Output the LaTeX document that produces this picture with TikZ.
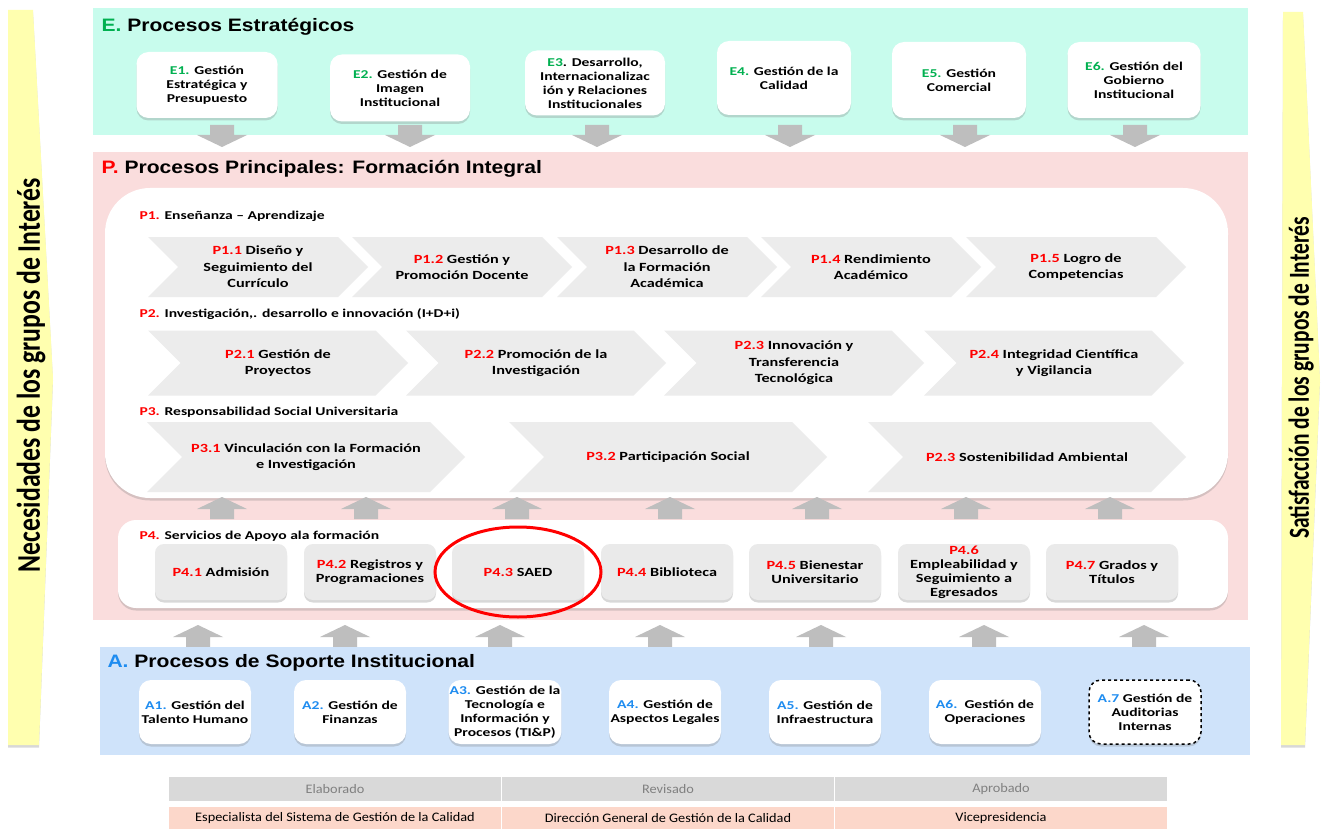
\documentclass[tikz,border=0pt]{standalone}
\usepackage{fontspec}
\setmainfont{Carlito}
\newfontfamily\boxfont[FakeStretch=1.3]{Carlito}
\newfontfamily\cellfont[FakeStretch=1.1]{Carlito}
\newfontfamily\titlefont[FakeStretch=1.17]{Liberation Sans}
\newfontfamily\barfont[FakeStretch=0.78]{Carlito}
\newfontfamily\rbarfont[FakeStretch=0.74]{Carlito}
\usepackage{xcolor}
\usepackage{tikz}
\usetikzlibrary{shapes.symbols,shadows}
\definecolor{egreen}{RGB}{0,176,80}
\definecolor{pred}{RGB}{255,0,0}
\definecolor{ablue}{RGB}{30,140,240}
\definecolor{tealbg}{RGB}{200,252,237}
\definecolor{pinkbg}{RGB}{250,221,221}
\definecolor{bluebg}{RGB}{207,227,250}
\definecolor{baryellow}{RGB}{255,255,175}
\definecolor{chevgray}{RGB}{236,236,236}
\definecolor{boxgray}{RGB}{234,234,234}
\definecolor{arrgray}{RGB}{190,190,190}
\definecolor{headgray}{RGB}{217,217,217}
\definecolor{bodypeach}{RGB}{252,215,202}

\newcommand{\eg}[1]{\textcolor{egreen}{#1}}
\newcommand{\pr}[1]{\textcolor{pred}{#1}}
\newcommand{\ab}[1]{\textcolor{ablue}{#1}}
\newcommand{\arrdown}[2]{\fill[arrgray] (#1-12,#2) -- (#1+12,#2) -- (#1+12,#2+10) -- (#1+25,#2+10) -- (#1,#2+22) -- (#1-25,#2+10) -- (#1-12,#2+10) -- cycle;}
\newcommand{\arrup}[2]{\fill[arrgray] (#1,#2) -- (#1+25,#2+12) -- (#1+12,#2+12) -- (#1+12,#2+22) -- (#1-12,#2+22) -- (#1-12,#2+12) -- (#1-25,#2+12) -- cycle;}

\tikzset{
  softshadow/.style={drop shadow={shadow xshift=0pt, shadow yshift=-2.5pt, opacity=.3}},
  wbox/.style={fill=white, rounded corners=12, align=center, softshadow, inner sep=1pt,
    font=\boxfont\bfseries\fontsize{12}{14}\selectfont},
  gbox/.style={fill=boxgray, rounded corners=9, align=center, softshadow, inner sep=1pt,
    minimum width=132, minimum height=56, font=\boxfont\bfseries\fontsize{12.5}{14}\selectfont},
  chev/.style={signal, signal from=west, signal to=east, signal pointer angle=90,
    fill=chevgray, align=center, inner sep=0pt, font=\boxfont\bfseries\fontsize{12.5}{16.5}\selectfont},
  sublabel/.style={anchor=west, font=\boxfont\bfseries\fontsize{12}{14}\selectfont},
  sectitle/.style={anchor=west, font=\titlefont\bfseries\fontsize{18}{20}\selectfont},
  headcell/.style={fill=headgray, minimum width=332, minimum height=24, text=black!50,
    font=\cellfont\fontsize{13}{14}\selectfont},
  bodycell/.style={fill=bodypeach, minimum width=332, minimum height=22,
    font=\cellfont\fontsize{13}{14}\selectfont},
}

\begin{document}
\begin{tikzpicture}[x=1pt,y=-1pt]
\useasboundingbox (0,0) rectangle (1325,829);
\fill[white] (0,0) rectangle (1325,829);

% side bars
\fill[baryellow, softshadow] (8,10) -- (33,10) -- (53,378) -- (39,745) -- (8,745) -- cycle;
\node (needs) at (31,375) [rotate=90, font=\barfont\bfseries\fontsize{33}{33}\selectfont] {Necesidades de los grupos de Interés};
\fill[baryellow, softshadow] (1283,12) -- (1303,12) -- (1320,380) -- (1305,745) -- (1281,745) -- cycle;
\node (satis) at (1301,378) [rotate=90, font=\rbarfont\bfseries\fontsize{29}{29}\selectfont] {Satisfacción de los grupos de Interés};

% E. procesos estrategicos
\fill[tealbg] (93,8) rectangle (1248,135);
\node (etitle) at (98,27) [sectitle] {\eg{E.} Procesos Estratégicos};
\node (e1) at (207,85) [wbox, minimum width=141, minimum height=66] {\eg{E1.} Gestión\\Estratégica y\\Presupuesto};
\node (e2) at (400,88) [wbox, minimum width=140, minimum height=67] {\eg{E2.} Gestión de\\Imagen\\Institucional};
\node (e3) at (595,83) [wbox, minimum width=140, minimum height=65] {\eg{E3}. Desarrollo,\\Internacionalizac\\ión y Relaciones\\Institucionales};
\node (e4) at (784,78) [wbox, minimum width=134, minimum height=74] {\eg{E4.} Gestión de la\\Calidad};
\node (e5) at (959,80) [wbox, minimum width=134, minimum height=76] {\eg{E5.} Gestión\\Comercial};
\node (e6) at (1134,80) [wbox, minimum width=133, minimum height=76] {\eg{E6.} Gestión del\\Gobierno\\Institucional};
\arrdown{222}{125} \arrdown{410}{125} \arrdown{597}{125}
\arrdown{790}{125} \arrdown{965}{125} \arrdown{1135}{125}

% P. procesos principales
\fill[pinkbg] (93,152) rectangle (1248,620);
\node (ptitle) at (98,169) [sectitle] {\pr{P.} Procesos Principales: Formación Integral};
\fill[white, rounded corners=45, softshadow] (105,188) rectangle (1228,498);

\node (p1) at (136,216) [sublabel] {\pr{P1.} Enseñanza – Aprendizaje};
\node (p11) at (258,267) [chev, minimum width=220, minimum height=60] {\pr{P1.1} Diseño y\\Seguimiento del\\Currículo};
\node (p12) at (462,267) [chev, minimum width=220, minimum height=60] {\pr{P1.2} Gestión y\\Promoción Docente};
\node (p13) at (667,267) [chev, minimum width=220, minimum height=60] {\pr{P1.3} Desarrollo de\\la Formación\\Académica};
\node (p14) at (871,267) [chev, minimum width=220, minimum height=60] {\pr{P1.4} Rendimiento\\Académico};
\node (p15) at (1076,267) [chev, minimum width=220, minimum height=60] {\pr{P1.5} Logro de\\Competencias};

\node (p2) at (136,314) [sublabel] {\pr{P2.} Investigación,. desarrollo e innovación (I+D+i)};
\node (p21) at (278,363) [chev, minimum width=260, minimum height=65] {\pr{P2.1} Gestión de\\Proyectos};
\node (p22) at (536,363) [chev, minimum width=260, minimum height=65] {\pr{P2.2} Promoción de la\\Investigación};
\node (p23) at (794,363) [chev, minimum width=260, minimum height=65] {\pr{P2.3} Innovación y\\Transferencia\\Tecnológica};
\node (p24) at (1054,363) [chev, minimum width=260, minimum height=65] {\pr{P2.4} Integridad Científica\\y Vigilancia};

\node (p3) at (136,412) [sublabel] {\pr{P3.} Responsabilidad Social Universitaria};
\node (p31) at (306,457) [chev, minimum width=318, minimum height=70] {\pr{P3.1} Vinculación con la Formación\\e Investigación};
\node (p32) at (668,457) [chev, minimum width=318, minimum height=70] {\pr{P3.2} Participación Social};
\node (p33) at (1027,457) [chev, minimum width=318, minimum height=70] {\pr{P2.3} Sostenibilidad Ambiental};

\arrup{222}{497} \arrup{366}{497} \arrup{517}{497} \arrup{670}{497}
\arrup{817}{497} \arrup{966}{497} \arrup{1110}{497}

\fill[white, rounded corners=18, softshadow] (118,520) rectangle (1228,608);
\node (p4) at (136,536) [sublabel] {\pr{P4.} Servicios de Apoyo ala formación};
\node (p41) at (221,572) [gbox] {\pr{P4.1} Admisión};
\node (p42) at (370,572) [gbox] {\pr{P4.2} Registros y\\Programaciones};
\node (p43) at (518,572) [gbox] {\pr{P4.3} SAED};
\node (p44) at (667,572) [gbox] {\pr{P4.4} Biblioteca};
\node (p45) at (815,572) [gbox] {\pr{P4.5} Bienestar\\Universitario};
\node (p46) at (964,572) [gbox] {\pr{P4.6}\\Empleabilidad y\\Seguimiento a\\Egresados};
\node (p47) at (1112,572) [gbox] {\pr{P4.7} Grados y\\Títulos};
\draw[pred, line width=3] (p43.center) ellipse [x radius=83, y radius=45];

\arrup{198}{625} \arrup{345}{625} \arrup{500}{625} \arrup{660}{625}
\arrup{821}{625} \arrup{984}{625} \arrup{1144}{625}

% A. procesos de soporte
\fill[bluebg] (100,647) rectangle (1250,755);
\node (atitle) at (104,663) [sectitle] {\ab{A.} Procesos de Soporte Institucional};
\node (a1) at (195,712) [wbox, minimum width=112, minimum height=64] {\ab{A1.} Gestión del\\Talento Humano};
\node (a2) at (350,712) [wbox, minimum width=112, minimum height=64] {\ab{A2.} Gestión de\\Finanzas};
\node (a3) at (505,712) [wbox, minimum width=112, minimum height=64] {\ab{A3.} Gestión de la\\Tecnología e\\Información y\\Procesos (TI\&P)};
\node (a4) at (665,712) [wbox, minimum width=112, minimum height=64] {\ab{A4.} Gestión de\\Aspectos Legales};
\node (a5) at (825,712) [wbox, minimum width=112, minimum height=64] {\ab{A5.} Gestión de\\Infraestructura};
\node (a6) at (985,712) [wbox, minimum width=112, minimum height=64] {\ab{A6.}\ \ Gestión de\\Operaciones};
\node (a7) at (1145,712) [wbox, draw=black, dashed, line width=1.5, minimum width=112, minimum height=64] {\ab{A.7} Gestión de\\Auditorias\\Internas};

% firmas
\node (h1) at (335,789) [headcell] {Elaborado};
\node (h2) at (668,789) [headcell] {Revisado};
\node (h3) at (1001,789) [headcell] {Aprobado};
\node (b1) at (335,818) [bodycell] {Especialista del Sistema de Gestión de la Calidad};
\node (b2) at (668,818) [bodycell] {Dirección General de Gestión de la Calidad};
\node (b3) at (1001,818) [bodycell] {Vicepresidencia};
\end{tikzpicture}
\end{document}
